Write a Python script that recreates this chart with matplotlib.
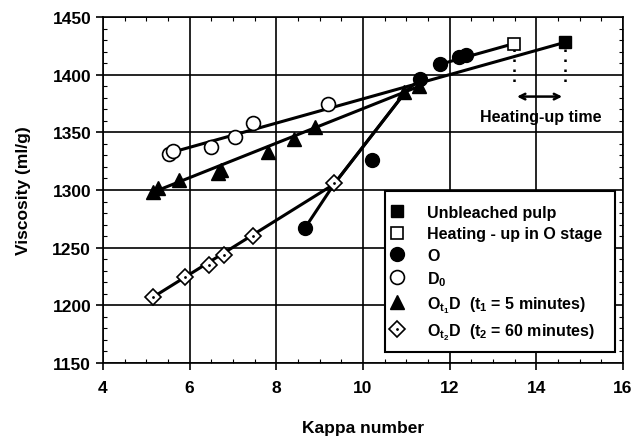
import matplotlib as mpl
mpl.use("Agg")
import matplotlib.pyplot as plt
from matplotlib.legend_handler import HandlerTuple
from matplotlib.patches import Rectangle
from matplotlib.ticker import MultipleLocator

plt.rcParams['font.family'] = ['Liberation Sans', 'DejaVu Sans']
plt.rcParams['font.weight'] = 'bold'
plt.rcParams['mathtext.fontset'] = 'custom'
plt.rcParams['mathtext.rm'] = 'Liberation Sans:bold'
plt.rcParams['mathtext.bf'] = 'Liberation Sans:bold'
plt.rcParams['mathtext.it'] = 'Liberation Sans:bold'
plt.rcParams['mathtext.default'] = 'bf'

# data
unbleached_k = [14.66]
unbleached_v = [1428]
heating_k = [13.49]
heating_v = [1427]

o_k = [8.66, 10.2, 11.32, 11.78, 12.22, 12.38]
o_v = [1267, 1326, 1396, 1409, 1415, 1417]

d0_k = [5.52, 5.62, 6.5, 7.05, 7.46, 9.2]
d0_v = [1331, 1334, 1337, 1346, 1358, 1375]

ot1_k = [5.15, 5.27, 5.75, 6.65, 6.72, 7.8, 8.4, 8.9, 10.95, 11.3]
ot1_v = [1298, 1302, 1309, 1315, 1317, 1333, 1344, 1355, 1385, 1390]

ot2_k = [5.15, 5.9, 6.45, 6.8, 7.45, 9.33]
ot2_v = [1207, 1225, 1235, 1244, 1260, 1306]

# fitted lines as drawn in the figure
d0_line_k = [5.62, 14.66]
d0_line_v = [1333, 1428]
ot1_line_k = [5.15, 11.3]
ot1_line_v = [1298, 1390]
ot2_line_k = [5.15, 9.33, 11.0]
ot2_line_v = [1207, 1305, 1386]
o_line_k = [8.66, 9.33, 11.0, 11.32]
o_line_v = [1267, 1305, 1386, 1396]
o_upper_k = [11.78, 13.49]
o_upper_v = [1409, 1427]

fig = plt.figure(figsize=(6.35, 4.39), dpi=100)
ax = fig.add_axes([103/635, 1-364/439, 520/635, 346/439])

lw = 2.2
for lk, lv in [(d0_line_k, d0_line_v), (ot1_line_k, ot1_line_v),
               (ot2_line_k, ot2_line_v), (o_line_k, o_line_v), (o_upper_k, o_upper_v)]:
    ax.plot(lk, lv, color='k', lw=lw, zorder=3, solid_joinstyle='round')

h_ub, = ax.plot(unbleached_k, unbleached_v, 's', color='k', ms=8, zorder=5)
h_hu, = ax.plot(heating_k, heating_v, 's', mfc='white', mec='k', mew=1.2, ms=8, zorder=5)
h_o, = ax.plot(o_k, o_v, 'o', color='k', ms=10, zorder=5)
h_d0, = ax.plot(d0_k, d0_v, 'o', mfc='white', mec='k', mew=1.2, ms=10, zorder=5)
h_t1, = ax.plot(ot1_k, ot1_v, '^', color='k', ms=10, zorder=5)
h_t2, = ax.plot(ot2_k, ot2_v, 'D', mfc='white', mec='k', mew=1.2, ms=8, zorder=5)
h_t2dot, = ax.plot(ot2_k, ot2_v, '.', color='k', ms=2, zorder=6)

# heating-up annotation
for k in [heating_k[0], unbleached_k[0]]:
    ax.plot([k, k], [1422, 1388], color='k', ls=(0, (1, 3)), lw=1.8, zorder=2)
ax.annotate('', xy=(heating_k[0], 1381), xytext=(unbleached_k[0], 1381),
            arrowprops=dict(arrowstyle='<->', color='k', lw=1.8))
ax.text(14.1, 1364, 'Heating-up time', ha='center', va='center', fontsize=11.5, fontweight='bold')

ax.set_xlim(4, 16)
ax.set_ylim(1150, 1450)
ax.xaxis.set_major_locator(MultipleLocator(2))
ax.xaxis.set_minor_locator(MultipleLocator(0.5))
ax.yaxis.set_major_locator(MultipleLocator(50))
ax.yaxis.set_minor_locator(MultipleLocator(10))
ax.grid(True, which='major', color='k', lw=1.2)
ax.tick_params(which='major', direction='out', length=5, width=1.2, labelsize=12.5)
ax.tick_params(axis='x', which='major', pad=7)
ax.tick_params(which='minor', direction='in', length=3, width=0.8, top=True, right=True)
for s in ax.spines.values():
    s.set_linewidth(1.2)
for lab in ax.get_xticklabels() + ax.get_yticklabels():
    lab.set_fontweight('bold')

ax.set_xlabel('Kappa number', fontsize=12.5, fontweight='bold', labelpad=18)
ax.set_ylabel('Viscosity (ml/g)', fontsize=12.5, fontweight='bold', labelpad=15)

# legend box drawn separately so it can be sized like the original
box = Rectangle((385/635, 1-353/439), 230/635, 161/439, transform=fig.transFigure,
                facecolor='white', edgecolor='k', lw=1.5, zorder=9)
ax.add_artist(box)
box.set_clip_on(False)

labels = ['Unbleached pulp', 'Heating - up in O stage', 'O', r'D$_0$',
          r'O$_{t_1}$D  (t$_1$ = 5 minutes)', r'O$_{t_2}$D  (t$_2$ = 60 minutes)']
handles = [h_ub, h_hu, h_o, h_d0, h_t1, (h_t2, h_t2dot)]
leg = ax.legend(handles, labels, loc='upper left',
                bbox_to_anchor=((383-103)/520, (364-201)/346),
                fontsize=11.5, frameon=False, borderaxespad=0,
                handlelength=1.2, handletextpad=1.25, labelspacing=0.4, borderpad=0.3,
                handler_map={tuple: HandlerTuple(ndivide=1)})
leg.set_zorder(10)

plt.savefig('out.png', dpi=100)
